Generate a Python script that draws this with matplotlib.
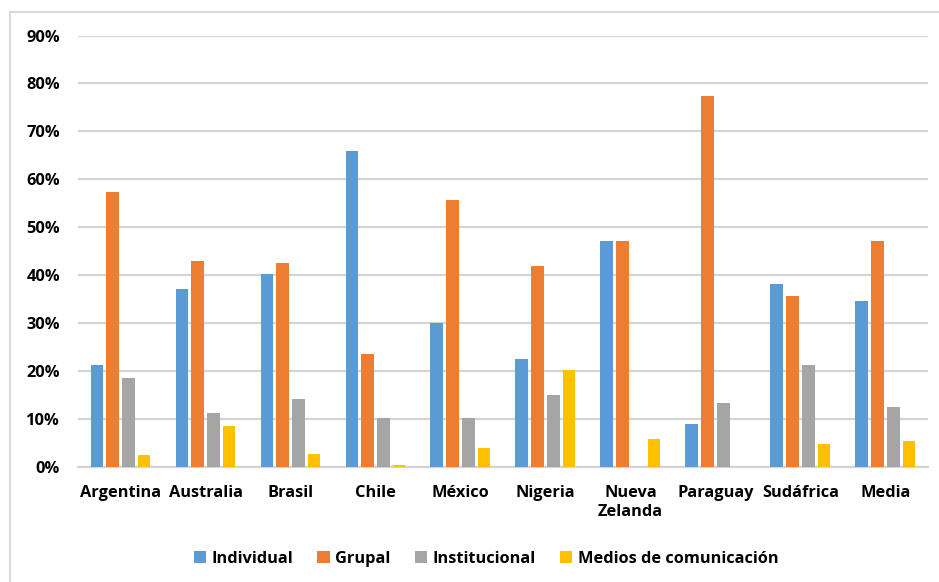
import numpy as np
import matplotlib
matplotlib.use('Agg')
import matplotlib.pyplot as plt
from matplotlib.lines import Line2D
from matplotlib.ticker import PercentFormatter

paises = ["Argentina", "Australia", "Brasil", "Chile", "México", "Nigeria",
          "Nueva\nZelanda", "Paraguay", "Sudáfrica", "Media"]
individual = [21.3, 37.0, 40.3, 65.8, 29.9, 22.4, 47.1, 8.9, 38.1, 34.6]
grupal = [57.3, 42.9, 42.5, 23.5, 55.7, 41.8, 47.1, 77.3, 35.7, 47.1]
institucional = [18.5, 11.3, 14.2, 10.2, 10.2, 15.0, 0.0, 13.4, 21.3, 12.5]
medios = [2.4, 8.5, 2.6, 0.4, 3.9, 20.2, 5.8, 0.0, 4.7, 5.4]

series = [("Individual", individual, "#5B9BD5"),
          ("Grupal", grupal, "#ED7D31"),
          ("Institucional", institucional, "#A5A5A5"),
          ("Medios de comunicación", medios, "#FFC000")]

plt.rcParams['font.family'] = ['Open Sans', 'DejaVu Sans']

fig = plt.figure(figsize=(9.39, 5.82), dpi=100)
ax = fig.add_axes([0.0831, 0.198, 0.905, 0.741])

x = np.arange(len(paises))
step = 0.185
width = 0.15
for i, (nombre, vals, color) in enumerate(series):
    ax.bar(x + (i - 1.5) * step, vals, width, color=color, label=nombre, zorder=3)

ax.set_xlim(-0.5, len(paises) - 0.5)
ax.set_ylim(0, 90)
ax.set_yticks(np.arange(0, 91, 10))
ax.yaxis.set_major_formatter(PercentFormatter(decimals=0))
ax.grid(axis='y', color='#D4D4D4', linewidth=1.6, zorder=0)
for s in ['top', 'right', 'left']:
    ax.spines[s].set_visible(False)
ax.spines['bottom'].set_color('#D4D4D4')
ax.spines['bottom'].set_linewidth(1.6)
ax.tick_params(axis='both', length=0, labelsize=11.8)
ax.tick_params(axis='y', pad=13)
ax.tick_params(axis='x', pad=13)
ax.set_xticks(x)
ax.set_xticklabels(paises, fontweight='bold', linespacing=1.25)
for t in ax.get_yticklabels():
    t.set_fontweight('bold')

leg = fig.legend(loc='center', bbox_to_anchor=(486 / 939, 1 - 559 / 582), ncol=4,
                 frameon=False, handlelength=0.75, handleheight=0.75,
                 handletextpad=0.35, columnspacing=1.45,
                 prop={'weight': 'bold', 'size': 11.8})

# marco exterior
fig.add_artist(Line2D([10 / 939, 10 / 939], [0, 1 - 12 / 582], color='#D9D9D9', lw=1.5))
fig.add_artist(Line2D([10 / 939, 1], [1 - 12 / 582, 1 - 12 / 582], color='#D9D9D9', lw=1.5))

fig.savefig("out.png", dpi=100)
